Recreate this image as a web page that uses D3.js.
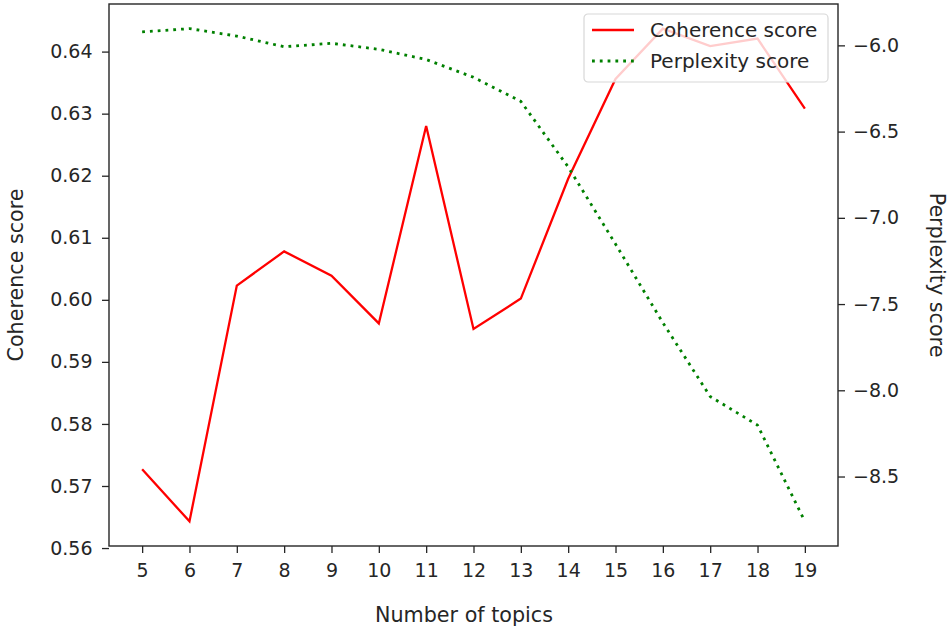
<!DOCTYPE html>
<html>
<head>
<meta charset="utf-8">
<script src="https://cdn.jsdelivr.net/npm/d3@7"></script>
<style>
  body { margin: 0; background: #fff; }
  text { font-family: "DejaVu Sans", sans-serif; fill: #262626; }
</style>
</head>
<body>
<div id="chart"></div>
<script>
// number of topics tried
var topics = [5, 6, 7, 8, 9, 10, 11, 12, 13, 14, 15, 16, 17, 18, 19];
// coherence per topic count (left axis)
var coherence = [0.5727, 0.5643, 0.6023, 0.6078, 0.6039, 0.5962, 0.6280, 0.5953,
                 0.6002, 0.6195, 0.6356, 0.6437, 0.6409, 0.6421, 0.6308];
// log perplexity per topic count (right axis)
var perplexity = [-5.922, -5.903, -5.946, -6.008, -5.988, -6.023, -6.082, -6.185,
                  -6.325, -6.705, -7.152, -7.608, -8.036, -8.202, -8.760];
var leftTicks = [0.56, 0.57, 0.58, 0.59, 0.60, 0.61, 0.62, 0.63, 0.64];
var rightTicks = [-8.5, -8.0, -7.5, -7.0, -6.5, -6.0];

var width = 948, height = 629;
var margin = {top: 4, right: 110, bottom: 83, left: 109};

function padded(vals) {
  // same 5% margins matplotlib adds
  var ext = d3.extent(vals), pad = (ext[1] - ext[0]) * 0.05;
  return [ext[0] - pad, ext[1] + pad];
}

var x = d3.scaleLinear().domain(padded(topics)).range([margin.left, width - margin.right]);
var yL = d3.scaleLinear().domain(padded(coherence)).range([height - margin.bottom, margin.top]);
var yR = d3.scaleLinear().domain(padded(perplexity)).range([height - margin.bottom, margin.top]);

var svg = d3.select("#chart").append("svg")
  .attr("width", width).attr("height", height);

var minus = function(d) { return d3.format(".1f")(d).replace("-", "\u2212"); };

var gx = svg.append("g")
  .attr("transform", "translate(0," + (height - margin.bottom) + ")")
  .call(d3.axisBottom(x).tickValues(topics).tickSize(7).tickPadding(11).tickFormat(d3.format("d")));
var gl = svg.append("g")
  .attr("transform", "translate(" + margin.left + ",0)")
  .call(d3.axisLeft(yL).tickValues(leftTicks).tickSize(7).tickPadding(9.5).tickFormat(d3.format(".2f")));
var gr = svg.append("g")
  .attr("transform", "translate(" + (width - margin.right) + ",0)")
  .call(d3.axisRight(yR).tickValues(rightTicks).tickSize(7).tickPadding(8).tickFormat(minus));

[gx, gl, gr].forEach(function(g) {
  g.select(".domain").remove();
  g.selectAll("line").attr("stroke", "#262626").attr("stroke-width", 1.3);
  g.selectAll("text").style("font-size", "19px").attr("fill", "#262626")
    .style("font-family", "'DejaVu Sans', sans-serif");
});

// frame
svg.append("rect")
  .attr("x", margin.left).attr("y", margin.top)
  .attr("width", width - margin.right - margin.left)
  .attr("height", height - margin.bottom - margin.top)
  .attr("fill", "none").attr("stroke", "#262626").attr("stroke-width", 1.4);

var lineL = d3.line().x(function(d, i) { return x(topics[i]); }).y(function(d) { return yL(d); });
var lineR = d3.line().x(function(d, i) { return x(topics[i]); }).y(function(d) { return yR(d); });

svg.append("path").datum(coherence).attr("d", lineL)
  .attr("fill", "none").attr("stroke", "#ff0000").attr("stroke-width", 2.3);
svg.append("path").datum(perplexity).attr("d", lineR)
  .attr("fill", "none").attr("stroke", "#008000").attr("stroke-width", 2.8)
  .attr("stroke-dasharray", "2.8,5");

// axis titles
svg.append("text")
  .attr("x", 464).attr("y", 622)
  .attr("text-anchor", "middle").style("font-size", "20.7px").text("Number of topics");
svg.append("text")
  .attr("transform", "translate(23," + (margin.top + height - margin.bottom) / 2 + ") rotate(-90)")
  .attr("text-anchor", "middle").style("font-size", "20.7px").text("Coherence score");
svg.append("text")
  .attr("transform", "translate(930," + (margin.top + height - margin.bottom) / 2 + ") rotate(90)")
  .attr("text-anchor", "middle").style("font-size", "20.7px").text("Perplexity score");

// legend
var lg = svg.append("g").attr("transform", "translate(584,14)");
lg.append("rect").attr("width", 244).attr("height", 68).attr("rx", 4)
  .attr("fill", "#fff").attr("fill-opacity", 0.8)
  .attr("stroke", "#d8d8d8").attr("stroke-width", 1.2);
var items = [
  {name: "Coherence score", color: "#ff0000", dash: null, w: 2.3},
  {name: "Perplexity score", color: "#008000", dash: "2.8,5", w: 2.8}
];
items.forEach(function(it, i) {
  var cy = 16 + i * 31;
  lg.append("line").attr("x1", 8).attr("x2", 50).attr("y1", cy).attr("y2", cy)
    .attr("stroke", it.color).attr("stroke-width", it.w)
    .attr("stroke-dasharray", it.dash);
  lg.append("text").attr("x", 66).attr("y", cy).attr("dy", "0.35em")
    .style("font-size", "20px").text(it.name);
});
</script>
</body>
</html>
